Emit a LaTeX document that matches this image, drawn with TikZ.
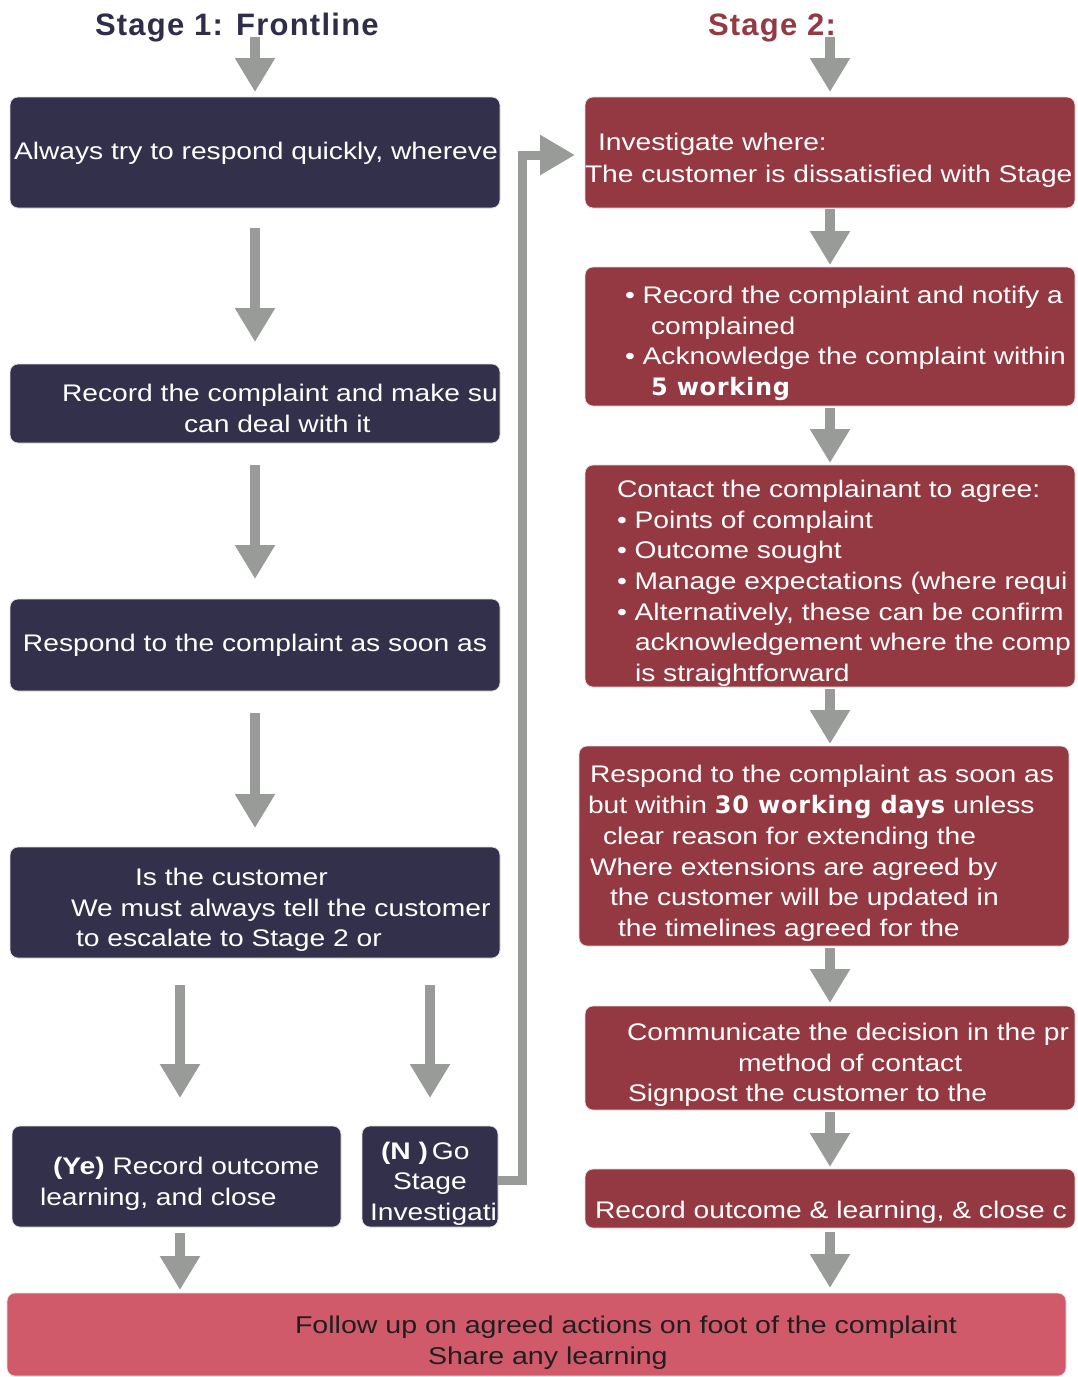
\documentclass[tikz,border=0pt]{standalone}
\usepackage{fontspec}
\usetikzlibrary{arrows.meta,calc}
\newfontfamily\bodyfont{Liberation Sans}[FakeStretch=1.175]
\newfontfamily\widebold{DejaVu Sans}[LetterSpace=3]
\newfontfamily\titlefont{Liberation Sans}[LetterSpace=4]
\definecolor{navy}{HTML}{33304C}
\definecolor{wine}{HTML}{943842}
\definecolor{pinkred}{HTML}{D05A6A}
\definecolor{arrowgray}{HTML}{999B99}
\definecolor{titlenavy}{HTML}{2F2D4A}
\definecolor{titlered}{HTML}{933A42}
\tikzset{
  boxbase/.style={rectangle, rounded corners=8pt, draw=black!12, line width=0.8pt, inner sep=0pt, outer sep=0pt},
  navybox/.style={boxbase, fill=navy},
  winebox/.style={boxbase, fill=wine},
  footbox/.style={boxbase, fill=pinkred},
  txt/.style={anchor=base west, inner sep=0pt, outer sep=0pt, text=white, font=\bodyfont\fontsize{24}{30}\selectfont},
  foottxt/.style={anchor=base west, inner sep=0pt, outer sep=0pt, text=black!88, font=\bodyfont\fontsize{24.3}{30}\selectfont},
  ttl/.style={anchor=base west, inner sep=0pt, outer sep=0pt, font=\titlefont\bfseries\fontsize{31}{36}\selectfont},
  arr/.style={draw=arrowgray, line width=10pt, -{Triangle[width=38pt,length=34pt]}},
  elbow/.style={draw=arrowgray, line width=9pt, -{Triangle[width=38pt,length=35pt]}},
}
\newcommand{\wb}[1]{{\widebold\bfseries #1}}
\begin{document}
\begin{tikzpicture}[x=1pt,y=-1pt]
\useasboundingbox (0,0) rectangle (1077,1377);
\fill[white] (0,0) rectangle (1077,1377);

% boxes
\node[navybox, minimum width=490pt, minimum height=111pt] (b1) at (255,152.5) {};
\node[navybox, minimum width=490pt, minimum height=79pt] (b2) at (255,403.5) {};
\node[navybox, minimum width=490pt, minimum height=92pt] (b3) at (255,645) {};
\node[navybox, minimum width=490pt, minimum height=111pt] (b4) at (255,902.5) {};
\node[navybox, minimum width=329pt, minimum height=101pt] (b5) at (176.5,1176.5) {};
\node[navybox, minimum width=136pt, minimum height=101pt] (b6) at (430,1176.5) {};
\node[winebox, minimum width=490pt, minimum height=111pt] (r1) at (830,152.5) {};
\node[winebox, minimum width=490pt, minimum height=139pt] (r2) at (830,336.5) {};
\node[winebox, minimum width=490pt, minimum height=222pt] (r3) at (830,576) {};
\node[winebox, minimum width=490pt, minimum height=200pt] (r4) at (824,846) {};
\node[winebox, minimum width=490pt, minimum height=104pt] (r5) at (830,1058) {};
\node[winebox, minimum width=490pt, minimum height=59pt] (r6) at (830,1198.5) {};
\node[footbox, minimum width=1059pt, minimum height=83pt] (bot) at (536.5,1334.5) {};

% titles
\node[ttl, text=titlenavy] (s1) at (95,35) {Stage 1: Frontline};
\node[ttl, text=titlered] (s2) at (708,35) {Stage 2:};
\coordinate (s1a) at (255,37);
\coordinate (s2a) at (830,37);

% texts (clipped to their boxes)
\begin{scope}\clip[rounded corners=8pt] (b1.south west) rectangle (b1.north east);
\node[txt] (t1) at (14,159) {Always try to respond quickly, whereve};
\end{scope}
\begin{scope}\clip[rounded corners=8pt] (b2.south west) rectangle (b2.north east);
\node[txt] (t2a) at (62,401) {Record the complaint and make su};
\node[txt] (t2b) at (184,432) {can deal with it};
\end{scope}
\begin{scope}\clip[rounded corners=8pt] (b3.south west) rectangle (b3.north east);
\node[txt] (t3) at (23,651) {Respond to the complaint as soon as};
\end{scope}
\begin{scope}\clip[rounded corners=8pt] (b4.south west) rectangle (b4.north east);
\node[txt] (t4a) at (135,885) {Is the customer};
\node[txt] (t4b) at (71,916) {We must always tell the customer};
\node[txt] (t4c) at (76,946) {to escalate to Stage 2 or};
\end{scope}
\begin{scope}\clip[rounded corners=8pt] (b5.south west) rectangle (b5.north east);
\node[txt] (t5a) at (53,1174) {\textbf{(Ye)} Record outcome};
\node[txt] (t5b) at (40,1205) {learning, and close};
\end{scope}
\begin{scope}\clip[rounded corners=8pt] (b6.south west) rectangle (b6.north east);
\node[txt] (t6a) at (381,1159) {\textbf{(N )}\,Go};
\node[txt] (t6b) at (393,1189) {Stage};
\node[txt] (t6c) at (370,1220) {Investigati};
\end{scope}
\begin{scope}\clip[rounded corners=8pt] (r1.south west) rectangle (r1.north east);
\node[txt] (u1a) at (598,150) {Investigate where:};
\node[txt] (u1b) at (585,182) {The customer is dissatisfied with Stage};
\end{scope}
\begin{scope}\clip[rounded corners=8pt] (r2.south west) rectangle (r2.north east);
\node[txt] (u2a) at (625,303) {• Record the complaint and notify a};
\node[txt] (u2b) at (651,334) {complained};
\node[txt] (u2c) at (625,364) {• Acknowledge the complaint within};
\node[txt] (u2d) at (651,395) {\wb{5 working}};
\end{scope}
\begin{scope}\clip[rounded corners=8pt] (r3.south west) rectangle (r3.north east);
\node[txt] (u3a) at (617,497) {Contact the complainant to agree:};
\node[txt] (u3b) at (617,528) {• Points of complaint};
\node[txt] (u3c) at (617,558) {• Outcome sought};
\node[txt] (u3d) at (617,589) {• Manage expectations (where requi};
\node[txt] (u3e) at (617,620) {• Alternatively, these can be confirm};
\node[txt] (u3f) at (635,650) {acknowledgement where the comp};
\node[txt] (u3g) at (635,681) {is straightforward};
\end{scope}
\begin{scope}\clip[rounded corners=8pt] (r4.south west) rectangle (r4.north east);
\node[txt] (u4a) at (590,782) {Respond to the complaint as soon as};
\node[txt] (u4b) at (588,813) {but within \wb{30 working days} unless};
\node[txt] (u4c) at (603,844) {clear reason for extending the};
\node[txt] (u4d) at (590,875) {Where extensions are agreed by};
\node[txt] (u4e) at (610,905) {the customer will be updated in};
\node[txt] (u4f) at (618,936) {the timelines agreed for the};
\end{scope}
\begin{scope}\clip[rounded corners=8pt] (r5.south west) rectangle (r5.north east);
\node[txt] (u5a) at (627,1040) {Communicate the decision in the pr};
\node[txt] (u5b) at (738,1071) {method of contact};
\node[txt] (u5c) at (628,1101) {Signpost the customer to the};
\end{scope}
\begin{scope}\clip[rounded corners=8pt] (r6.south west) rectangle (r6.north east);
\node[txt] (u6) at (595,1218) {Record outcome \& learning, \& close c};
\end{scope}
\node[foottxt] (f1) at (295,1333) {Follow up on agreed actions on foot of the complaint};
\node[foottxt] (f2) at (428,1364) {Share any learning};

% connectors
\draw[arr, shorten >=5pt] (s1a) -- (b1.north);
\draw[arr, shorten <=20pt, shorten >=22pt] (b1.south) -- (b2.north);
\draw[arr, shorten <=22pt, shorten >=20pt] (b2.south) -- (b3.north);
\draw[arr, shorten <=22pt, shorten >=19pt] (b3.south) -- (b4.north);
\draw[arr, shorten <=27pt, shorten >=28pt] ([xshift=3.5pt]b4.south -| b5.north) -- ([xshift=3.5pt]b5.north);
\draw[arr, shorten <=27pt, shorten >=28pt] (b4.south -| b6.north) -- (b6.north);
\draw[arr, shorten <=6pt, shorten >=3pt] ([xshift=3.5pt]b5.south) -- ([xshift=3.5pt]b5.south |- bot.north);
\draw[arr, shorten >=5pt] (s2a) -- (r1.north);
\draw[arr, shorten <=1pt, shorten >=2pt] (r1.south) -- (r2.north);
\draw[arr, shorten <=2pt, shorten >=2pt] (r2.south) -- (r3.north);
\draw[arr, shorten <=2pt, shorten >=2pt] (r3.south) -- (r3.south |- r4.north);
\draw[arr, shorten <=2pt, shorten >=3pt] (r4.south -| r5.north) -- (r5.north);
\draw[arr, shorten <=2pt, shorten >=2pt] (r5.south) -- (r6.north);
\draw[arr, shorten <=4pt, shorten >=5pt] (r6.south) -- (r6.south |- bot.north);
\draw[elbow] ([yshift=-3.5pt]b6.east) -- ++(24,0) |- ([xshift=-10pt,yshift=-2.5pt]r1.west);
\end{tikzpicture}
\end{document}
